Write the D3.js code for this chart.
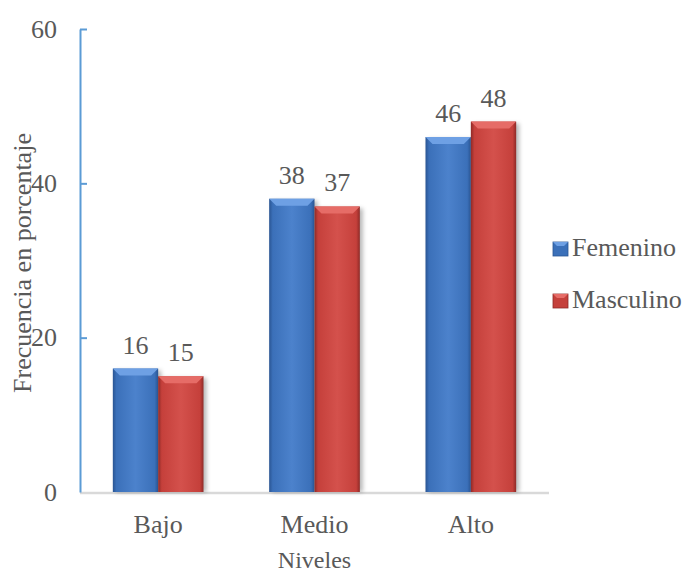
<!DOCTYPE html>
<html>
<head>
<meta charset="utf-8">
<script src="https://cdn.jsdelivr.net/npm/d3@7"></script>
<style>
  body { margin: 0; background: #fff; }
  text { font-family: "Liberation Serif", "Times New Roman", serif; fill: #595959; }
</style>
</head>
<body>
<svg id="chart" width="686" height="572"></svg>
<script>
// Chart data
const categories = ["Bajo", "Medio", "Alto"];
const seriesNames = ["Femenino", "Masculino"];
const femenino = [16, 38, 46];
const masculino = [15, 37, 48];
const yTicks = [0, 20, 40, 60];

const colors = {
  Femenino: { main: "#3b70b9", light: "#6ea0e4", dark: "#2a5593", edge: "#4c82cc" },
  Masculino: { main: "#c5403b", light: "#e66c67", dark: "#8f2a27", edge: "#d4514c" }
};

const svg = d3.select("#chart");
const plotLeft = 80, plotRight = 549, plotTop = 29, plotBottom = 492;

const y = d3.scaleLinear().domain([0, 60]).range([plotBottom, plotTop]);
const x0 = d3.scaleBand().domain(categories).range([plotLeft, plotRight])
  .paddingInner(0.42).paddingOuter(0.21);
const x1 = d3.scaleBand().domain(seriesNames).range([0, x0.bandwidth()]);

// build rows from the arrays
const rows = categories.map((c, i) => ({
  cat: c,
  vals: [
    { key: "Femenino", value: femenino[i] },
    { key: "Masculino", value: masculino[i] }
  ]
}));

const defs = svg.append("defs");
defs.append("filter").attr("id", "shadow").attr("x", "-30%").attr("y", "-10%")
  .attr("width", "160%").attr("height", "120%")
  .append("feGaussianBlur").attr("stdDeviation", 2.2);

seriesNames.forEach(s => {
  const g = defs.append("linearGradient").attr("id", "grad-" + s)
    .attr("x1", "0").attr("x2", "1").attr("y1", "0").attr("y2", "0");
  g.append("stop").attr("offset", "0").attr("stop-color", colors[s].dark);
  g.append("stop").attr("offset", "0.08").attr("stop-color", colors[s].main);
  g.append("stop").attr("offset", "0.5").attr("stop-color", colors[s].edge);
  g.append("stop").attr("offset", "0.92").attr("stop-color", colors[s].main);
  g.append("stop").attr("offset", "1").attr("stop-color", colors[s].dark);
});

// x axis line (gray)
svg.append("line")
  .attr("x1", plotLeft).attr("x2", plotRight)
  .attr("y1", plotBottom + 1).attr("y2", plotBottom + 1)
  .attr("stroke", "#d9d9d9").attr("stroke-width", 2.5);

// bars
const groups = svg.selectAll(".grp").data(rows).enter().append("g")
  .attr("class", "grp")
  .attr("transform", d => `translate(${x0(d.cat)},0)`);

const bars = groups.selectAll(".bar").data(d => d.vals).enter().append("g")
  .attr("class", "bar");

// drop shadow
bars.append("rect")
  .attr("x", d => x1(d.key) + 3)
  .attr("y", d => y(d.value) + 2)
  .attr("width", x1.bandwidth())
  .attr("height", d => plotBottom - y(d.value) - 2)
  .attr("fill", "rgba(0,0,0,0.28)")
  .attr("filter", "url(#shadow)");

bars.append("rect")
  .attr("x", d => x1(d.key))
  .attr("y", d => y(d.value))
  .attr("width", x1.bandwidth())
  .attr("height", d => plotBottom - y(d.value))
  .attr("fill", d => `url(#grad-${d.key})`);

// top bevel
bars.append("path")
  .attr("d", d => {
    const bx = x1(d.key), w = x1.bandwidth(), t = y(d.value), b = 7;
    return `M${bx},${t}L${bx + w},${t}L${bx + w - b},${t + b}L${bx + b},${t + b}Z`;
  })
  .attr("fill", d => colors[d.key].light);

// value labels
bars.append("text")
  .attr("x", d => x1(d.key) + x1.bandwidth() / 2)
  .attr("y", d => y(d.value) - 15)
  .attr("text-anchor", "middle")
  .attr("font-size", 26)
  .text(d => d.value);

// y axis (blue, ticks inside)
const yAxis = svg.append("g")
  .attr("transform", `translate(${plotLeft},0)`)
  .call(d3.axisLeft(y).tickValues(yTicks).tickSizeInner(-7).tickSizeOuter(0).tickPadding(23));
yAxis.select(".domain").attr("stroke", "#5b9bd5").attr("stroke-width", 2);
yAxis.selectAll(".tick line").attr("stroke", "#5b9bd5").attr("stroke-width", 2);
yAxis.selectAll(".tick").filter(d => d === 0).select("line").remove();
yAxis.selectAll("text").attr("font-size", 26).attr("font-family", "Liberation Serif").attr("fill", "#595959");

// category labels
svg.selectAll(".cat").data(categories).enter().append("text")
  .attr("x", d => x0(d) + x0.bandwidth() / 2)
  .attr("y", 533)
  .attr("text-anchor", "middle")
  .attr("font-size", 26)
  .text(d => d);

// axis titles
svg.append("text")
  .attr("x", (plotLeft + plotRight) / 2)
  .attr("y", 568)
  .attr("text-anchor", "middle")
  .attr("font-size", 24)
  .text("Niveles");

svg.append("text")
  .attr("transform", `translate(31,${263}) rotate(-90)`)
  .attr("text-anchor", "middle")
  .attr("font-size", 26)
  .text("Frecuencia en porcentaje");

// legend
const legend = svg.selectAll(".legend").data(seriesNames).enter().append("g")
  .attr("class", "legend")
  .attr("transform", (d, i) => `translate(553,${242 + i * 52})`);
legend.append("rect")
  .attr("width", 15).attr("height", 14)
  .attr("fill", d => colors[d].main)
  .attr("stroke", d => colors[d].dark).attr("stroke-width", 0.8);
legend.append("path")
  .attr("d", "M0,0L15,0L11,4L4,4Z")
  .attr("fill", d => colors[d].light);
legend.append("text")
  .attr("x", 19).attr("y", 14)
  .attr("font-size", 26)
  .text(d => d);
</script>
</body>
</html>
